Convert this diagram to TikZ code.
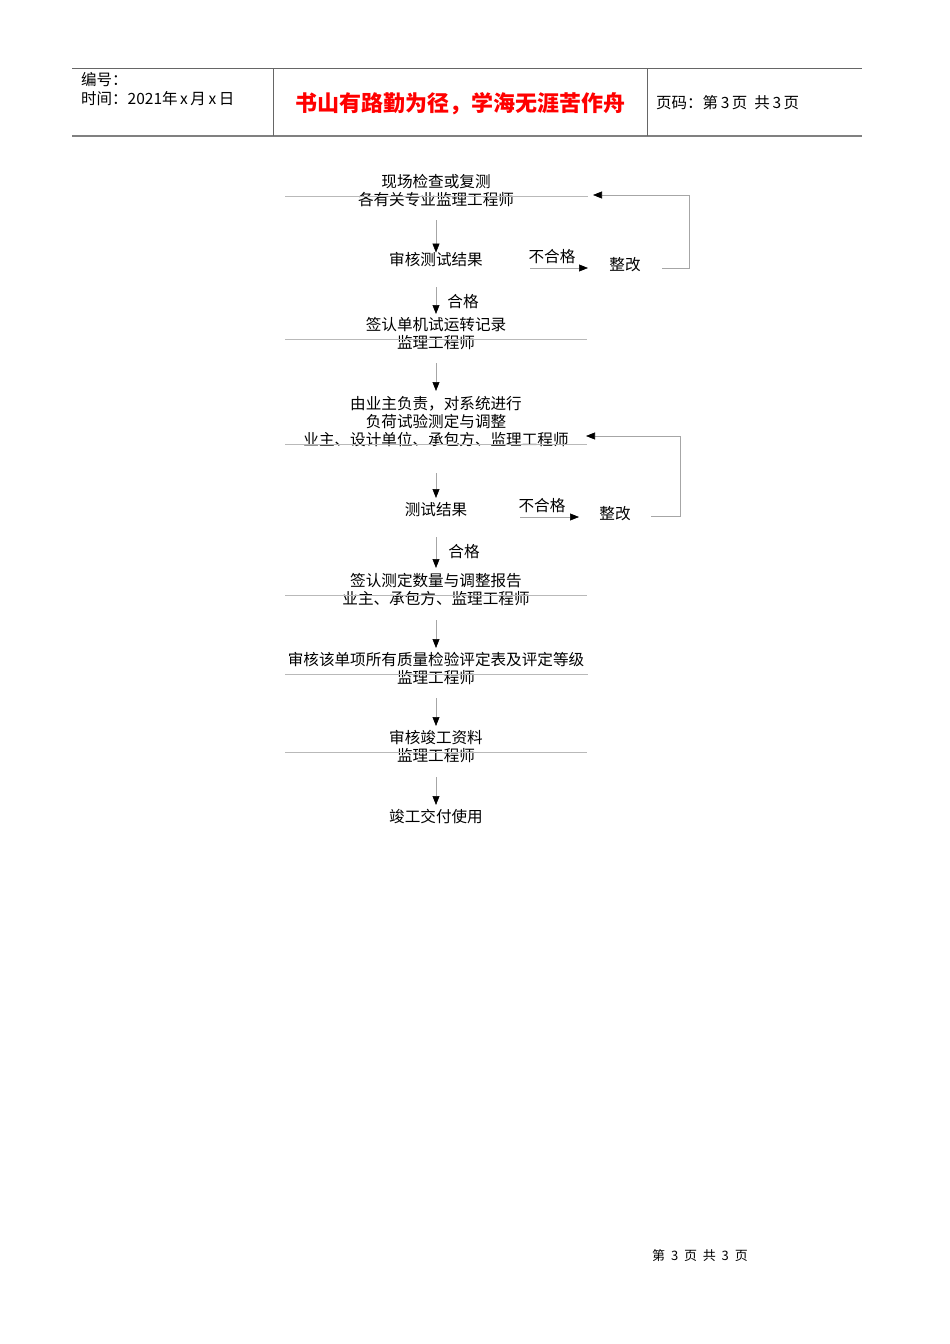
\documentclass[tikz,border=0pt]{standalone}
\usepackage{fontspec}
\setmainfont{Noto Sans CJK SC}
\usetikzlibrary{arrows.meta}
\begin{document}
\begin{tikzpicture}[x=1pt,y=-1pt,
  txt/.style={inner sep=0pt,font=\fontsize{15.6}{17}\selectfont},
  hd/.style={inner sep=0pt,anchor=west,font=\fontsize{15.5}{17}\selectfont},
  sep/.style={draw=gray!55,line width=0.6pt},
  flow/.style={draw=gray!70,line width=0.6pt,-{Triangle[length=9pt,width=7pt,color=black]}},
  ln/.style={draw=gray!70,line width=0.6pt}]
\useasboundingbox (0,0) rectangle (950,1344);
% header
\draw[line width=0.8pt,gray!80!black] (72,68) -- (862,68);
\draw[line width=1.4pt,gray] (72,136) -- (862,136);
\draw[line width=0.8pt,gray!80!black] (273,68) -- (273,136) (647,68) -- (647,136);
\node[hd] (h1) at (81,80) {编号：};
\node[hd] (h2) at (81,99) {时间：2021年\,x\,月\,x\,日};
\node[inner sep=0pt,text=red,font=\fontsize{22}{24}\selectfont\bfseries] (title) at (460,104) {书山有路勤为径，学海无涯苦作舟};
\node[hd] (h3) at (656,103) {页码：第\,3\,页\ \ 共\,3\,页};
% flow
\node[txt] (a1) at (436,182) {现场检查或复测};
\node[txt] (a2) at (436,200) {各有关专业监理工程师};
\draw[sep] (285,196) -- (588,196);
\node[txt] (b) at (436,260) {审核测试结果};
\draw[flow] (436,220) -- (b.north);
\node[txt] (bn) at (552,257) {不合格};
\node[txt] (bz) at (625,265) {整改};
\coordinate (bs) at (530,268); \coordinate (be) at (588,268);
\draw[flow] (bs) -- (be);
\coordinate (bl) at (662,268); \coordinate (bt) at (593,195);
\draw[ln,-{Triangle[length=9pt,width=7pt,color=black]}] (bl) -- (689,268) -- (689,195) -- (bt);
\node[txt] (c1) at (436,325) {签认单机试运转记录};
\node[txt] (c2) at (436,343) {监理工程师};
\draw[sep] (285,339) -- (587,339);
\draw[flow] (436,287) -- (436,314);
\node[txt] (cg) at (463,302) {合格};
\node[txt] (d1) at (436,404) {由业主负责，对系统进行};
\node[txt] (d2) at (436,422) {负荷试验测定与调整};
\node[txt] (d3) at (436,440) {业主、设计单位、承包方、监理工程师};
\draw[sep] (285,444) -- (587,444);
\draw[flow] (436,363) -- (436,391);
\node[txt] (e) at (436,510) {测试结果};
\draw[flow] (436,473) -- (436,498);
\node[txt] (en) at (542,506) {不合格};
\node[txt] (ez) at (615,514) {整改};
\coordinate (es) at (520,517); \coordinate (ee) at (579,517);
\draw[flow] (es) -- (ee);
\coordinate (el) at (651,516); \coordinate (et) at (586,436);
\draw[ln,-{Triangle[length=9pt,width=7pt,color=black]}] (el) -- (680,516) -- (680,436) -- (et);
\draw[flow] (436,537) -- (436,568);
\node[txt] (eg) at (464,552) {合格};
\node[txt] (f1) at (436,581) {签认测定数量与调整报告};
\node[txt] (f2) at (436,599) {业主、承包方、监理工程师};
\draw[sep] (285,595) -- (587,595);
\draw[flow] (436,620) -- (436,648);
\node[txt] (g1) at (436,660) {审核该单项所有质量检验评定表及评定等级};
\node[txt] (g2) at (436,678) {监理工程师};
\draw[sep] (285,674) -- (588,674);
\draw[flow] (436,698) -- (436,726);
\node[txt] (h1b) at (436,738) {审核竣工资料};
\node[txt] (h2b) at (436,756) {监理工程师};
\draw[sep] (285,752) -- (587,752);
\draw[flow] (436,777) -- (436,805);
\node[txt] (i) at (436,817) {竣工交付使用};
\node[inner sep=0pt,font=\fontsize{13}{15}\selectfont] (foot) at (700,1256) {第\ \ 3\ \ 页\ \ 共\ \ 3\ \ 页};
\end{tikzpicture}
\end{document}
